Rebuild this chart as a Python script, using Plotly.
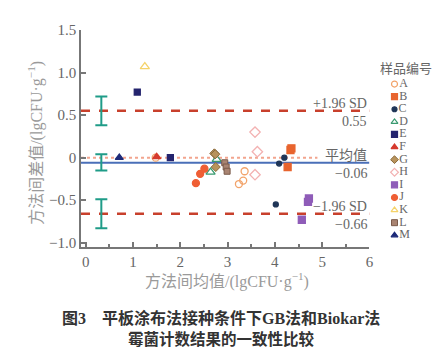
import plotly.graph_objects as go

# Bland-Altman agreement data: mean of the two methods vs. their difference
sample_ids = ["A", "A", "A", "A",
              "B", "B", "B",
              "C", "C", "C",
              "D", "D",
              "E", "E",
              "F",
              "G", "G", "G",
              "H", "H", "H",
              "I", "I", "I",
              "J", "J", "J",
              "K",
              "L", "L", "L",
              "M"]
mean_vals = [1.48, 3.24, 3.33, 3.36,
             4.27, 4.33, 4.35,
             4.02, 4.09, 4.20,
             2.64, 2.77,
             1.09, 1.79,
             1.50,
             2.72, 2.74, 2.75,
             3.58, 3.63, 3.58,
             4.57, 4.70, 4.72,
             2.33, 2.42, 2.51,
             1.25,
             2.94, 2.97, 2.99,
             0.71]
diff_vals = [0.00, -0.31, -0.27, -0.16,
             -0.11, 0.09, 0.11,
             -0.55, -0.07, 0.00,
             -0.17, -0.02,
             0.77, 0.00,
             0.01,
             0.05, 0.04, -0.11,
             0.30, 0.07, -0.20,
             -0.73, -0.52, -0.48,
             -0.30, -0.19, -0.13,
             1.07,
             -0.06, -0.11, -0.16,
             0.00]

# Agreement statistics and their confidence intervals
bias = -0.06
upper_loa = 0.55
lower_loa = -0.66
stat_levels = [upper_loa, bias, lower_loa]
ci_high = [0.72, 0.04, -0.49]
ci_low = [0.38, -0.15, -0.83]
ci_x = 0.33

samples = ["A", "B", "C", "D", "E", "F", "G", "H", "I", "J", "K", "L", "M"]
sample_style = {
    "A": dict(symbol="circle-open", color="#f2a36a", size=7),
    "B": dict(symbol="square", color="#e8642e", size=7),
    "C": dict(symbol="circle", color="#1f3557", size=5),
    "D": dict(symbol="triangle-up-open", color="#3a9a70", size=8),
    "E": dict(symbol="square", color="#24246e", size=6),
    "F": dict(symbol="triangle-up", color="#d63a2e", size=7),
    "G": dict(symbol="diamond", color="#b8935c", size=7,
              line=dict(color="#8a6a3a", width=1)),
    "H": dict(symbol="diamond-open", color="#f3b2b2", size=8),
    "I": dict(symbol="square", color="#8f5cb8", size=7),
    "J": dict(symbol="circle", color="#ef5e34", size=7),
    "K": dict(symbol="triangle-up-open", color="#f5d36a", size=8),
    "L": dict(symbol="square", color="#a98472", size=6,
              line=dict(color="#7a5a4a", width=1)),
    "M": dict(symbol="triangle-up", color="#1d2a78", size=7),
}

SERIF = "Liberation Serif, Noto Sans CJK SC, serif"
GREY = "#666666"
X_MIN, X_MAX = -0.1, 6.0

fig = go.Figure()

# zero reference line
fig.add_trace(go.Scatter(x=[X_MIN, 4.9], y=[0, 0], mode="lines",
                         line=dict(color="#f2a58e", width=2, dash="dot"),
                         hoverinfo="skip", showlegend=False))
# bias line
fig.add_trace(go.Scatter(x=[X_MIN, X_MAX], y=[bias, bias], mode="lines",
                         line=dict(color="#4a6fb8", width=2),
                         hoverinfo="skip", showlegend=False))
# limits of agreement
for lv in (upper_loa, lower_loa):
    fig.add_trace(go.Scatter(x=[X_MIN, X_MAX], y=[lv, lv], mode="lines",
                             line=dict(color="#c8402c", width=2.5, dash="dash"),
                             hoverinfo="skip", showlegend=False))

# confidence intervals of the statistics
fig.add_trace(go.Scatter(
    x=[ci_x] * len(stat_levels), y=stat_levels, mode="markers",
    marker=dict(size=1, color="rgba(0,0,0,0)"),
    error_y=dict(type="data", symmetric=False,
                 array=[h - s for h, s in zip(ci_high, stat_levels)],
                 arrayminus=[s - l for s, l in zip(stat_levels, ci_low)],
                 color="#1f9c88", thickness=2, width=6),
    hoverinfo="skip", showlegend=False))

# sample points
for s in samples:
    xs = [m for m, sid in zip(mean_vals, sample_ids) if sid == s]
    ys = [d for d, sid in zip(diff_vals, sample_ids) if sid == s]
    st = dict(sample_style[s])
    line = st.pop("line", dict(color=st["color"], width=1.3))
    fig.add_trace(go.Scatter(x=xs, y=ys, mode="markers", name=s,
                             marker=dict(**st, line=line), showlegend=False))

# key panel with sample identifiers
for i, s in enumerate(samples):
    st = dict(sample_style[s])
    line = st.pop("line", dict(color=st["color"], width=1.2))
    st["size"] = min(st["size"], 6)
    fig.add_trace(go.Scatter(x=[0], y=[i], mode="markers+text", text=[s],
                             textposition="middle right",
                             textfont=dict(family=SERIF, size=12, color=GREY),
                             marker=dict(**st, line=line),
                             xaxis="x2", yaxis="y2", showlegend=False,
                             cliponaxis=False))

# statistic labels on the right end of the lines
labels = [("+1.96 SD", "0.55", upper_loa), ("平均值", "−0.06", bias),
          ("−1.96 SD", "−0.66", lower_loa)]
for top, bottom, lv in labels:
    fig.add_annotation(x=X_MAX, y=lv, xref="x", yref="y", text=top,
                       showarrow=False, xanchor="right", yanchor="bottom",
                       yshift=-2, font=dict(family=SERIF, size=14, color=GREY))
    fig.add_annotation(x=X_MAX, y=lv, xref="x", yref="y", text=bottom,
                       showarrow=False, xanchor="right", yanchor="top",
                       yshift=-1, font=dict(family=SERIF, size=14, color=GREY))

# axis titles
fig.add_annotation(x=0.41, y=-0.155, xref="paper", yref="paper",
                   xanchor="center", yanchor="middle",
                   text="方法间均值/(lgCFU·g<sup>−1</sup>)", showarrow=False,
                   font=dict(family=SERIF, size=16, color="#9a9a9a"))
fig.add_annotation(x=-0.128, y=0.478, xref="paper", yref="paper",
                   xanchor="center", yanchor="middle",
                   text="方法间差值/(lgCFU·g<sup>−1</sup>)", showarrow=False,
                   textangle=-90,
                   font=dict(family=SERIF, size=16, color="#9a9a9a"))
# key title
fig.add_annotation(x=0.915, y=0.825, xref="paper", yref="paper",
                   xanchor="center", yanchor="middle",
                   text="样品编号", showarrow=False,
                   font=dict(family="Noto Sans CJK SC", size=13, color=GREY))

# figure caption
fig.add_annotation(x=0.3955, y=-0.327, xref="paper", yref="paper",
                   xanchor="center", yanchor="middle",
                   text="图3\u3000平板涂布法接种条件下GB法和Biokar法",
                   showarrow=False,
                   font=dict(family="Liberation Serif, Noto Sans CJK SC",
                             size=16, color="#333333", weight="bold"))
fig.add_annotation(x=0.3955, y=-0.418, xref="paper", yref="paper",
                   xanchor="center", yanchor="middle",
                   text="霉菌计数结果的一致性比较", showarrow=False,
                   font=dict(family="Noto Sans CJK SC", size=15.5,
                             color="#333333", weight="bold"))

axis_common = dict(showgrid=False, zeroline=False, showline=True,
                   linecolor="#777777", linewidth=1.5, ticks="inside",
                   ticklen=5, tickcolor="#777777", tickwidth=1.5,
                   tickfont=dict(family=SERIF, size=15, color=GREY))

fig.update_layout(
    width=444, height=349,
    margin=dict(l=81, r=4, t=30, b=102.3),
    paper_bgcolor="white", plot_bgcolor="white",
    xaxis=dict(range=[X_MIN, X_MAX], domain=[0, 0.8125],
               tickvals=[0, 1, 2, 3, 4, 5, 6],
               minor=dict(tickvals=[0.5, 1.5, 2.5, 3.5, 4.5, 5.5],
                          ticks="inside", ticklen=3, tickcolor="#777777"),
               **axis_common),
    yaxis=dict(range=[-1.05, 1.5],
               tickvals=[1.5, 1.0, 0.5, 0, -0.5, -1.0],
               ticktext=["1.5", "1.0", "0.5", "0", "−0.5", "−1.0"],
               **axis_common),
    xaxis2=dict(domain=[0.833, 1.0], range=[-0.3, 0.7], visible=False,
                anchor="y2"),
    yaxis2=dict(domain=[0, 1], range=[12.93, -4.29], visible=False,
                anchor="x2"),
)

fig.write_html("out.html")
